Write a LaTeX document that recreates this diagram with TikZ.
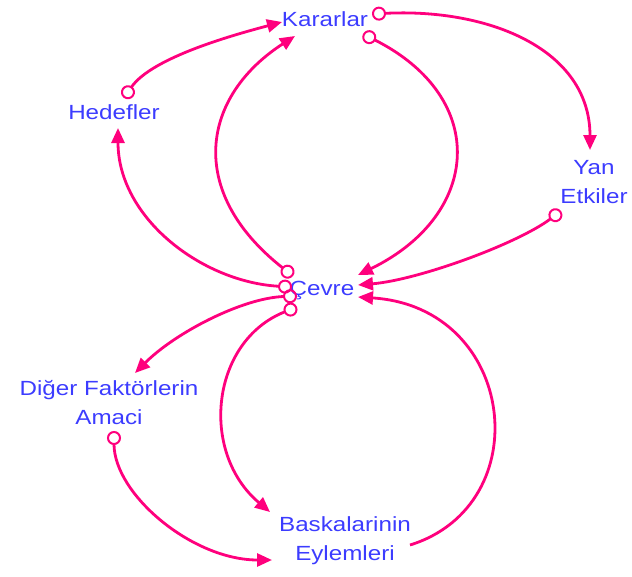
\documentclass[tikz,border=0pt]{standalone}
\usepackage{fontspec}
\setmainfont[FakeStretch=1.18]{Liberation Sans}
\usetikzlibrary{arrows.meta}
\definecolor{linkpink}{RGB}{255,0,125}
\definecolor{varblue}{RGB}{60,60,255}
\tikzset{
  var/.style={text=varblue, align=center, inner sep=0pt, font=\fontsize{20.5}{29}\selectfont},
  link/.style={draw=linkpink, line width=2.8pt, arrows={Circle[open,length=14pt,width=14pt,line width=2pt]-Triangle[length=15pt,width=13pt]}},
  linkback/.style={draw=linkpink, line width=2.8pt, arrows={-Triangle[length=15pt,width=13pt]}}
}
\begin{document}
\begin{tikzpicture}[x=1pt,y=-1pt]
	\useasboundingbox (0,0) rectangle (632,576);
	\node [var] at (325,19) (kar) {Kararlar};
	\node [var] at (114,112) (hed) {Hedefler};
	\node [var] at (594,182) (yan) {Yan\\Etkiler};
	\node [var] at (322,291) (cev) {Çevre};
	\node [var] at (109,403) (dig) {Diğer Faktörlerin\\Amaci};
	\node [var] at (345,541) (bas) {Baskalarinin\\Eylemleri};
	
	\draw [link] ([shift={(10,-14)}]hed.center) .. controls +(28,-41) and +(-45,12) .. ([shift={(-43,3)}]kar.center);
	\draw [link] ([shift={(-29,-15)}]cev.center) .. controls +(-108,-85) and +(-93,60) .. ([shift={(-30,17)}]kar.center);
	\draw [link] ([shift={(38,15)}]kar.center) .. controls +(127,64) and +(123,-60) .. ([shift={(36,-16)}]cev.center);
	\draw [link] ([shift={(47,-5)}]kar.center) .. controls +(118,-6) and +(0,-100) .. ([shift={(-4,-32)}]yan.center);
	\draw [link] ([shift={(-33,29)}]yan.center) .. controls +(-44,33) and +(60,-5) .. ([shift={(36,-6)}]cev.center);
	\draw [link] ([shift={(-30,-4)}]cev.center) .. controls +(-90,-5) and +(0,90) .. ([shift={(4,16)}]hed.center);
	\draw [link] ([shift={(-25,5)}]cev.center) .. controls +(-55,2) and +(40,-40) .. ([shift={(26,-30)}]dig.center);
	\draw [link] ([shift={(-25,16)}]cev.center) .. controls +(-86,34) and +(-71,-60) .. ([shift={(-75,-29)}]bas.center);
	\draw [link] ([shift={(5,28)}]dig.center) .. controls +(0,63) and +(-80,0) .. ([shift={(-73,19)}]bas.center);
	\draw [linkback] ([shift={(65,4)}]bas.center) .. controls +(129,-40) and +(159,10) .. ([shift={(36,6)}]cev.center);
\end{tikzpicture}
\end{document}
